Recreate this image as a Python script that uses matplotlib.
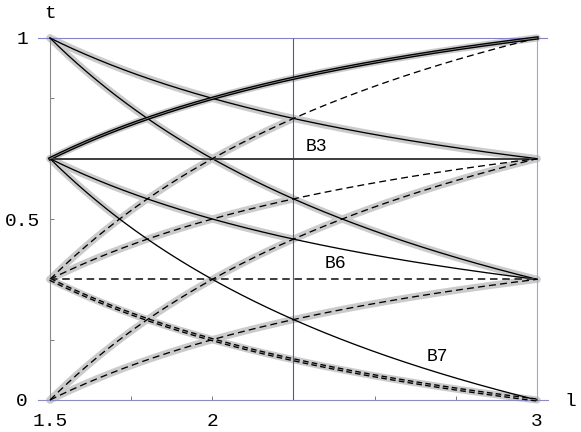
import numpy as np
import matplotlib
matplotlib.use("Agg")
import matplotlib.pyplot as plt

plt.rcParams['font.family'] = ['Liberation Mono', 'DejaVu Sans']
plt.rcParams['lines.scale_dashes'] = False

# ---- data ----
# value of t at l = 1.5 (left end) and at l = 3 (right end) of each curve
t_left = [1, 1, 2/3, 2/3, 2/3, 2/3, 1/3, 1/3, 1/3, 1/3, 0, 0]
t_right = [2/3, 1/3, 1, 2/3, 1/3, 0, 1, 2/3, 1/3, 0, 2/3, 1/3]
# l-range on which each curve carries the grey highlight (None = no highlight)
halo_start = [1.5, 1.5, 1.5, None, 1.5, 1.5, 1.5, 1.5, None, 1.5, 1.5, 1.5]
halo_end = [3, 3, 3, None, 2.25, 12/7, 2.25, 2.25, None, 3, 3, 3]
curve_kind = ['solid', 'solid', 'double', 'level', 'solid', 'solid',
              'dashed', 'dashed', 'leveldash', 'doubledash', 'dashed', 'dashed']

x_ticks = [1.5, 1.75, 2, 2.25, 2.5, 2.75, 3]
x_ticklabels = ['1.5', '', '2', '', '', '', '3']
y_ticks = [0, 1/6, 1/3, 1/2, 2/3, 5/6, 1]
y_ticklabels = ['0', '', '', '0.5', '', '', '1']
l_mark = 2.25
curve_labels = ['B3', 'B6', 'B7']

# ---- figure ----
W, H = 581, 432
fig = plt.figure(figsize=(W / 100, H / 100), dpi=100)
PX = 487 / 1.5          # pixels per unit l
PY = 362                # pixels per unit t
XMIN, XMAX = 1.5 - 12 / PX, 3 + 11 / PX
YMIN, YMAX = -0.03, 1.03
left_px = 50 - (1.5 - XMIN) * PX
bot_px = 400 + (0 - YMIN) * PY
ax = fig.add_axes([left_px / W, (H - bot_px) / H,
                   (XMAX - XMIN) * PX / W, (YMAX - YMIN) * PY / H])
ax.set_xlim(XMIN, XMAX)
ax.set_ylim(YMIN, YMAX)

l = np.linspace(1.5, 3, 600)
for t0, t1, h0, h1, kind in zip(t_left, t_right, halo_start, halo_end, curve_kind):
    t = t1 + (t0 - t1) * (3 / l - 1)
    if h0 is not None:
        m = (l >= h0 - 1e-9) & (l <= h1 + 1e-9)
        ax.plot(l[m], t[m], color='#cbcbcb', lw=5.2, solid_capstyle='round',
                zorder=1, clip_on=False)
    if kind == 'solid':
        ax.plot(l, t, color='black', lw=0.95, zorder=3, clip_on=False)
    elif kind == 'double':
        ax.plot(l, t, color='black', lw=2.5, zorder=3, clip_on=False)
        ax.plot(l, t, color='#9a9a9a', lw=0.55, zorder=3.1, clip_on=False)
    elif kind == 'level':
        ax.plot(l, t, color='#3c3c3c', lw=1.4, zorder=3, clip_on=False)
    elif kind == 'leveldash':
        ax.plot(l, t, color='#3c3c3c', lw=1.4, dashes=(5.4, 3.4), zorder=3,
                clip_on=False)
    elif kind == 'dashed':
        ax.plot(l, t, color='black', lw=0.95, dashes=(5.0, 3.0), zorder=3,
                clip_on=False)
    elif kind == 'doubledash':
        ax.plot(l, t, color='black', lw=2.4, dashes=(4.0, 2.4),
                dash_capstyle='butt', zorder=3, clip_on=False)
        ax.plot(l, t, color='#9a9a9a', lw=0.55, dashes=(4.0, 2.4),
                dash_capstyle='butt', zorder=3.1, clip_on=False)

# blue frame / marker lines
ax.axhline(1, color='#8383cc', lw=0.8, zorder=2)
ax.vlines(3, 0, 1, color='#a3a3e0', lw=0.8, zorder=2)
ax.vlines(l_mark, 0, 1, color='#5252aa', lw=0.8, zorder=2)

# axes
for s in ('top', 'right'):
    ax.spines[s].set_visible(False)
ax.spines['bottom'].set_position(('data', 0))
ax.spines['bottom'].set_color('#8c8cc0')
ax.spines['bottom'].set_linewidth(0.8)
ax.spines['left'].set_position(('data', 1.5))
ax.spines['left'].set_bounds(0, 1)
ax.spines['left'].set_color('#8a8a8a')
ax.spines['left'].set_linewidth(0.8)

ax.set_xticks(x_ticks)
ax.set_xticklabels(x_ticklabels)
ax.set_yticks(y_ticks)
ax.set_yticklabels(y_ticklabels)
ax.tick_params(axis='both', direction='in', length=3, width=0.7,
               color='#7a7a7a', labelsize=14, labelcolor='black')
ax.tick_params(axis='x', pad=9)
ax.tick_params(axis='y', pad=20)
for lab in ax.get_yticklabels():
    lab.set_horizontalalignment('center')

ax.text(1.5, 1.069, 't', ha='center', va='center', fontsize=14)
ax.text(3.102, -0.005, 'l', ha='center', va='center', fontsize=14)

ax.text(2.319, 0.70, curve_labels[0], ha='center', va='center', fontsize=13, zorder=4)
ax.text(2.378, 0.378, curve_labels[1], ha='center', va='center', fontsize=13, zorder=4)
ax.text(2.692, 0.119, curve_labels[2], ha='center', va='center', fontsize=13, zorder=4)

fig.savefig('out.png', dpi=100)
